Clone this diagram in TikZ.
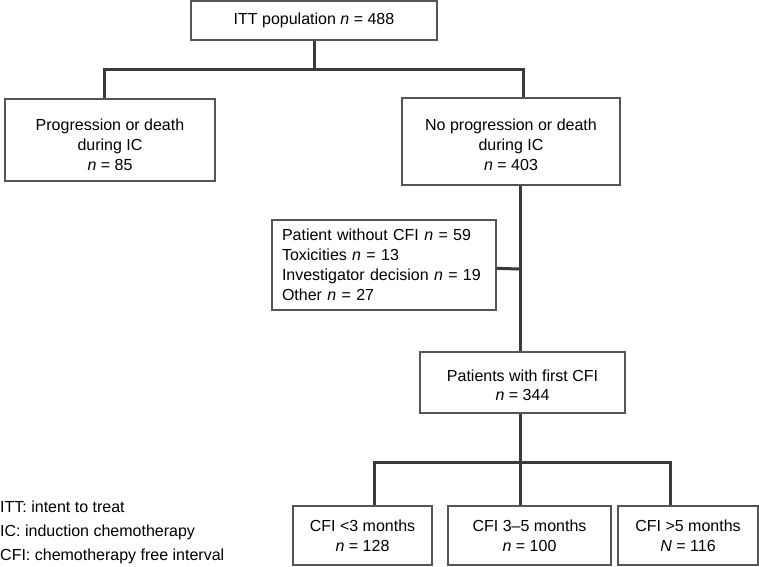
\documentclass[tikz,border=0pt]{standalone}
\usepackage{fontspec}
\setmainfont{Liberation Sans}
\usepackage{xcolor}
\usetikzlibrary{arrows,positioning}

\definecolor{boxgray}{HTML}{555555}
\definecolor{linkgray}{HTML}{3A3A3A}

\tikzset{
  box/.style={draw=boxgray, line width=1.2pt, inner sep=0pt, align=center,
              font=\fontsize{16}{20}\selectfont},
  link/.style={draw=linkgray, line width=3pt}
}

\begin{document}
\begin{tikzpicture}[x=1pt,y=-1pt]
\useasboundingbox (0,0) rectangle (759,566);

\node[box, minimum width=246pt, minimum height=39pt] (1) at (314,20.5){ITT population \textit{n} = 488};
\node[box, minimum width=210pt, minimum height=82pt] (2) at (110,140){\rule{0pt}{22pt}Progression or death\\during IC\\\textit{n} = 85};
\node[box, minimum width=218pt, minimum height=87pt] (3) at (511,141.5){\rule{0pt}{18pt}No progression or death\\during IC\\\textit{n} = 403};
\node[box, minimum width=224pt, minimum height=90pt, align=left, text width=204pt, inner xsep=10pt] (4) at (384,265){Patient without CFI \textit{n} = 59\\Toxicities \textit{n} = 13\\Investigator decision \textit{n} = 19\\Other \textit{n} = 27};
\node[box, minimum width=205pt, minimum height=61pt, font=\fontsize{16}{18.5}\selectfont] (5) at (522.5,382.5){\rule{0pt}{17pt}Patients with first CFI\\\textit{n} = 344};
\node[box, minimum width=139pt, minimum height=59pt] (6) at (362.5,535.5){CFI <3 months\\\textit{n} = 128};
\node[box, minimum width=163pt, minimum height=59pt] (7) at (529.5,535.5){CFI 3–5 months\\\textit{n} = 100};
\node[box, minimum width=140pt, minimum height=59pt] (8) at (688,535.5){CFI >5 months\\\textit{N} = 116};

\node[anchor=west, align=left, inner sep=0pt, font=\fontsize{16}{24}\selectfont] (9) at (0,532.5){ITT: intent to treat\\IC: induction chemotherapy\\CFI: chemotherapy free interval};

\coordinate (a) at (314,69);
\coordinate (b) at (520,269);
\coordinate (c) at (520,462);

\draw[link] (1) -- (a);
\draw[link] ([xshift=-6pt]2.north) |- (a) -| ([xshift=12pt]3.north);
\draw[link] (3.south -| b) -- (5.north -| b);
\draw[link] (4) -- (b);
\draw[link] (5.south -| c) -- (c);
\draw[link] ([xshift=11.5pt]6.north) |- (c) -| ([xshift=-18pt]8.north);
\draw[link] (c) -- (7.north -| c);

\end{tikzpicture}
\end{document}
